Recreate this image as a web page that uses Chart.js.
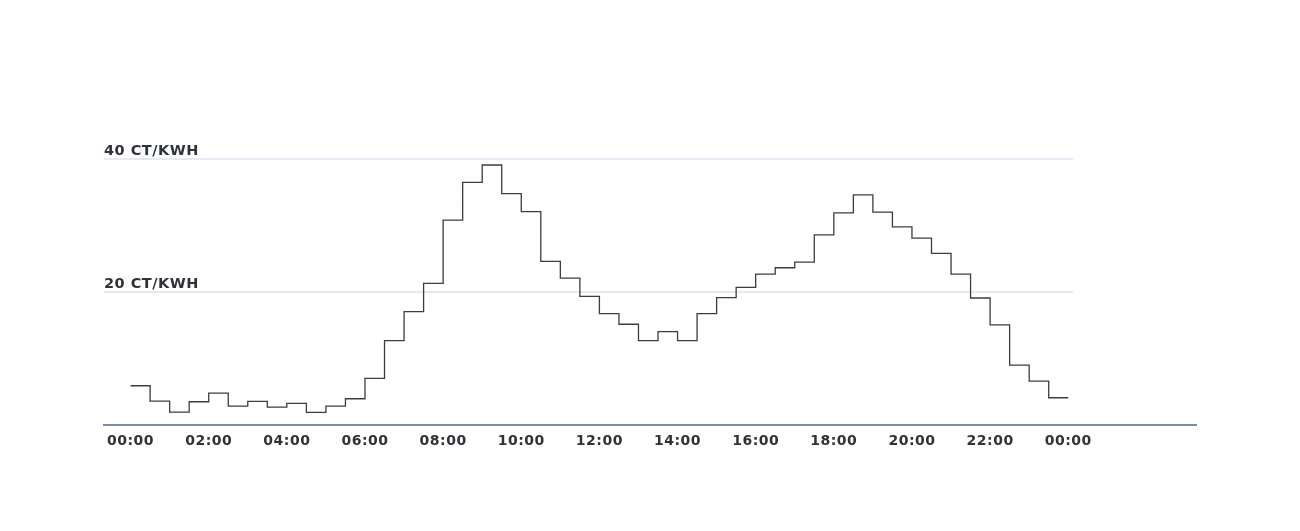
<!DOCTYPE html>
<html>
<head>
<meta charset="utf-8">
<script src="https://cdn.jsdelivr.net/npm/chart.js@4.4.1/dist/chart.umd.min.js"></script>
<style>
  html, body { margin: 0; padding: 0; background: #ffffff; }
  #wrap { width: 1300px; height: 531px; }
</style>
</head>
<body>
<div id="wrap"><canvas id="c" width="1300" height="531"></canvas></div>
<script>
// Half-hour price slots (ct/kWh), starting at 00:00
const prices = [
  5.9, 3.6, 1.95, 3.5, 4.8, 2.85, 3.55, 2.7, 3.25, 1.9, 2.85, 3.95,
  7.0, 12.7, 17.05, 21.3, 30.8, 36.5, 39.1, 34.8, 32.1, 24.6, 22.1, 19.35,
  16.75, 15.15, 12.7, 14.05, 12.7, 16.75, 19.15, 20.7, 22.7, 23.65, 24.5, 28.6,
  31.9, 34.6, 32.0, 29.8, 28.1, 25.8, 22.7, 19.1, 15.05, 9.0, 6.6, 4.1
];
const slotHours = 0.5;
const xTickHours = [0, 2, 4, 6, 8, 10, 12, 14, 16, 18, 20, 22, 24];
const xTickLabels = ['00:00','02:00','04:00','06:00','08:00','10:00','12:00','14:00','16:00','18:00','20:00','22:00','00:00'];
const yTickValues = [0, 20, 40];
const yUnit = 'CT/KWH';

const points = prices.map((p, i) => ({ x: i * slotHours, y: p }));
points.push({ x: prices.length * slotHours, y: prices[prices.length - 1] });

const spacing = {
  id: 'spacing',
  beforeUpdate(chart) { chart.ctx.letterSpacing = '0.5px'; },
  beforeDraw(chart) { chart.ctx.letterSpacing = '0.5px'; }
};

const shortGrid = {
  id: 'shortGrid',
  beforeDatasetsDraw(chart) {
    const { ctx, chartArea, scales } = chart;
    const xEnd = scales.x.getPixelForValue(24.12);
    ctx.save();
    ctx.strokeStyle = '#dde1f2';
    ctx.lineWidth = 1.5;
    yTickValues.forEach(v => {
      if (v === 0) return;
      const y = scales.y.getPixelForValue(v);
      ctx.beginPath();
      ctx.moveTo(chartArea.left, y);
      ctx.lineTo(xEnd, y);
      ctx.stroke();
    });
    ctx.restore();
  }
};

new Chart(document.getElementById('c'), {
  type: 'line',
  data: {
    datasets: [{
      data: points,
      stepped: true,
      borderColor: '#3c3c3c',
      borderWidth: 1.3,
      pointRadius: 0,
      fill: false,
      tension: 0
    }]
  },
  options: {
    responsive: false,
    animation: false,
    layout: { padding: { left: 104, right: 104, top: 159, bottom: 0 } },
    plugins: { legend: { display: false }, tooltip: { enabled: false } },
    scales: {
      x: {
        type: 'linear',
        min: -0.68,
        max: 27.27,
        grid: { display: false, drawTicks: false },
        border: { display: true, color: '#7b8ba3', width: 2 },
        afterBuildTicks(scale) { scale.ticks = xTickHours.map(v => ({ value: v })); },
        afterFit(scale) { scale.height = 106; },
        ticks: {
          autoSkip: false,
          maxRotation: 0,
          padding: 8,
          color: '#2f3337',
          font: { family: 'DejaVu Sans', size: 14, weight: 'bold' },
          callback(v, i) { return xTickLabels[i]; }
        }
      },
      y: {
        min: 0,
        max: 40,
        grid: { display: false, drawTicks: false },
        border: { display: false },
        afterBuildTicks(scale) { scale.ticks = yTickValues.map(v => ({ value: v })); },
        afterFit(scale) { scale.width = 0; },
        ticks: {
          mirror: true,
          padding: 0,
          labelOffset: -8,
          color: '#2f3337',
          font: { family: 'DejaVu Sans', size: 14.5, weight: 'bold' },
          callback(v) { return v === 0 ? '' : v + ' ' + yUnit; }
        }
      }
    }
  },
  plugins: [spacing, shortGrid]
});
</script>
</body>
</html>
